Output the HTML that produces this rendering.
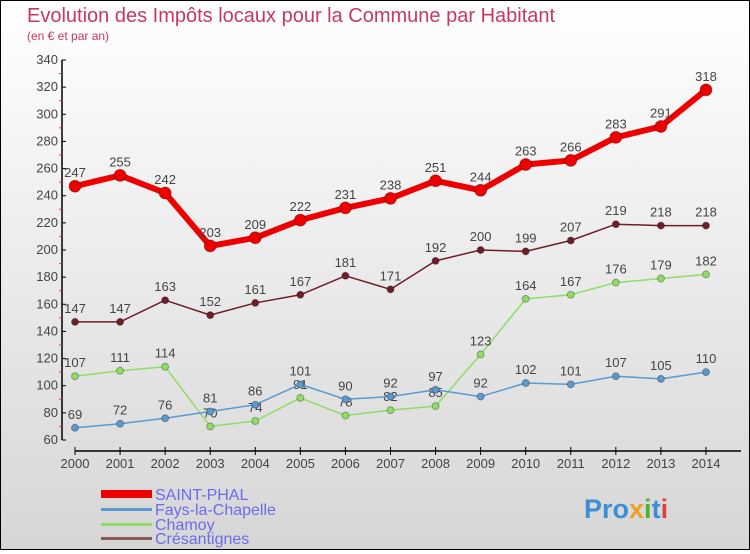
<!DOCTYPE html>
<html><head><meta charset="utf-8"><style>
body{margin:0}
#c{width:748px;height:548px;border:1px solid #000;background:linear-gradient(#ffffff,#d6d6d6);position:relative;font-family:"Liberation Sans",sans-serif}
</style></head><body>
<div id="c">
<svg id="s" width="748" height="548" xmlns="http://www.w3.org/2000/svg" font-family="Liberation Sans, sans-serif">
<text x="26" y="21" font-size="20" fill="#c8385f">Evolution des Impôts locaux pour la Commune par Habitant</text>
<text x="26" y="39" font-size="12" fill="#c8385f">(en € et par an)</text>
<g id="axes"></g><g id="series"></g>
<g>
<rect x="100" y="489" width="51" height="8" fill="#ee0000"/>
<text x="154" y="499" font-size="16" fill="#6b6bee">SAINT-PHAL</text>
<rect x="100" y="507" width="51" height="3" fill="#5a9ad0"/>
<text x="154" y="514" font-size="16" fill="#6b6bee">Fays-la-Chapelle</text>
<rect x="100" y="522" width="51" height="3" fill="#8fdc66"/>
<text x="154" y="529" font-size="16" fill="#6b6bee">Chamoy</text>
<rect x="100" y="536" width="51" height="3" fill="#8a5a5a"/>
<text x="154" y="543" font-size="16" fill="#6b6bee">Crésantignes</text>
</g>
<text x="583" y="517" font-size="27" font-weight="bold" fill="#3a8fd8">Pro<tspan fill="#f0a020">x</tspan><tspan fill="#50b030">i</tspan>t<tspan fill="#e04040">i</tspan></text>
</svg></div>
<script>
const years=[2000,2001,2002,2003,2004,2005,2006,2007,2008,2009,2010,2011,2012,2013,2014];
const saintPhal=[247,255,242,203,209,222,231,238,251,244,263,266,283,291,318];
const fays=[69,72,76,81,86,101,90,92,97,92,102,101,107,105,110];
const chamoy=[107,111,114,70,74,91,78,82,85,123,164,167,176,179,182];
const cresantignes=[147,147,163,152,161,167,181,171,192,200,199,207,219,218,218];
const yTicks=[60,80,100,120,140,160,180,200,220,240,260,280,300,320,340];
const NS="http://www.w3.org/2000/svg";
const x=i=>74+i*45.07;
const y=v=>439-(v-60)*380/280;
const ax=document.getElementById('axes'),sr=document.getElementById('series');
function mk(p,t,a){const e=document.createElementNS(NS,t);for(const k in a)e.setAttribute(k,a[k]);p.appendChild(e);return e;}
let e=mk(ax,'line',{x1:61,y1:y(340),x2:61,y2:y(60),stroke:'#000','stroke-width':1.5});


e=mk(ax,'line',{x1:74,y1:450,x2:740,y2:450,stroke:'#000','stroke-width':1.5});


yTicks.forEach(v=>{
 mk(ax,'line',{x1:61,y1:y(v),x2:65,y2:y(v),stroke:'#000'});
 if(v<340) mk(ax,'line',{x1:58,y1:y(v+10),x2:61,y2:y(v+10),stroke:'#f33'});
 const t=mk(ax,'text',{x:57,y:y(v)+4,'font-size':13,'text-anchor':'end',fill:'#444'});t.textContent=v;
 
 
});
years.forEach((yr,i)=>{
 mk(ax,'line',{x1:x(i),y1:446,x2:x(i),y2:454,stroke:'#000'});
 const t=mk(ax,'text',{x:x(i),y:467,'font-size':13,'text-anchor':'middle',fill:'#444'});t.textContent=yr;
 
 
});
function series(data,col,w,r,name){
 const g=mk(sr,'g',{});
 
 
 mk(g,'polyline',{points:data.map((v,i)=>x(i)+','+y(v)).join(' '),fill:'none',stroke:col,'stroke-width':w,'stroke-linejoin':'round'});
 data.forEach((v,i)=>{
  const c=mk(g,'circle',{cx:x(i),cy:y(v),r:r,fill:col,stroke:'rgba(0,0,0,0.3)','stroke-width':1});
  
  
  const t=mk(g,'text',{x:x(i),y:y(v)-9,'font-size':13,'text-anchor':'middle',fill:'#444'});t.textContent=v;
  
  
 });
}
series(cresantignes,'#6e1e28',1.5,3.5,'cresantignes');
series(chamoy,'#8fdc66',1.5,3.5,'chamoy');
series(fays,'#5a9ad0',1.5,3.5,'fays-la-chapelle');
series(saintPhal,'#ee0000',6,6,'saint-phal');
</script>
</body></html>
